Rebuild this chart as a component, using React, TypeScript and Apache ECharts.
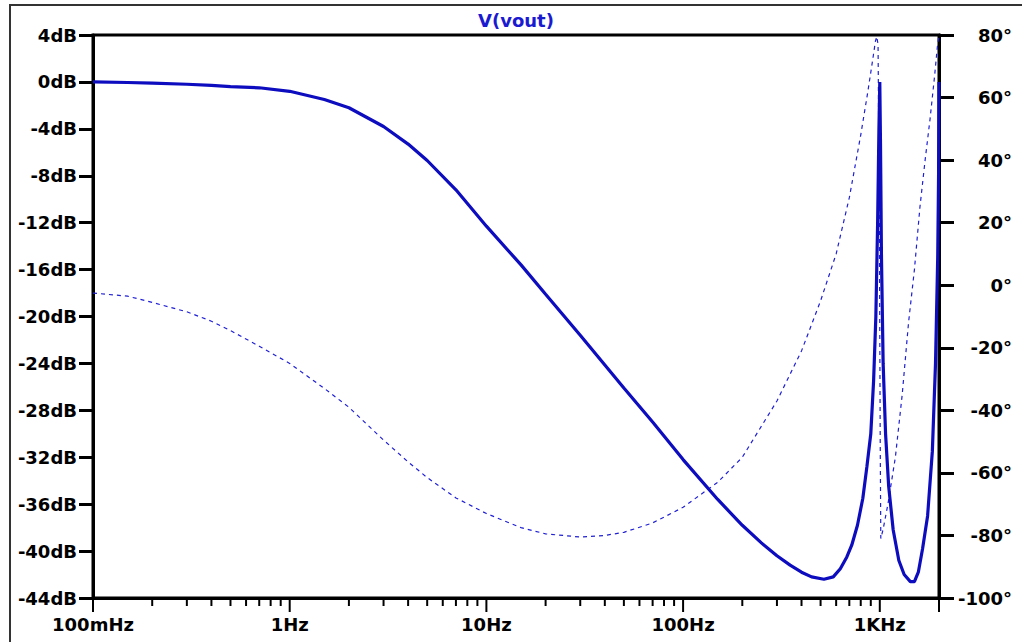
import React, { useEffect, useRef } from 'react';
import * as echarts from 'echarts';

const magFreq = [0.1, 0.15, 0.2, 0.3, 0.4, 0.5, 0.7, 1, 1.5, 2, 3, 4, 5, 7, 10, 15, 20, 30, 50, 70, 100, 150, 200, 250, 300, 350, 400, 450, 520, 580, 630, 680, 720, 770, 820, 860, 900, 930, 955, 975, 990, 1000, 1008, 1020, 1040, 1070, 1110, 1170, 1250, 1330, 1430, 1500, 1570, 1650, 1750, 1850, 1920, 1970, 1990, 2000];
const magDb = [0, -0.05, -0.1, -0.2, -0.3, -0.4, -0.5, -0.8, -1.5, -2.2, -3.8, -5.3, -6.7, -9.2, -12.3, -15.6, -18.1, -21.6, -26.1, -29.0, -32.2, -35.6, -37.8, -39.3, -40.4, -41.2, -41.8, -42.2, -42.4, -42.2, -41.5, -40.5, -39.5, -37.8, -35.5, -32.8, -30, -25.5, -20, -12, -4, 0, -5, -15, -24, -30, -34.5, -38.2, -40.8, -42, -42.6, -42.6, -41.8, -39.8, -37, -31.5, -24, -15, -8, 0];

const phaseFreq = [0.1, 0.15, 0.2, 0.3, 0.4, 0.5, 0.7, 1, 1.5, 2, 3, 4, 5, 7, 10, 15, 20, 30, 40, 50, 70, 100, 150, 200, 300, 400, 500, 600, 700, 800, 870, 920, 950, 965, 980, 995, 1005, 1012, 1040, 1100, 1200, 1300, 1400, 1500, 1600, 1700, 1800, 1900, 1960, 2000];
const phaseDeg = [-2.5, -3.5, -5.5, -8.5, -11.5, -14.5, -19.5, -25, -33, -39, -49.5, -56.5, -61.5, -68, -73, -77.5, -79.5, -80.5, -80, -79, -76, -71, -63, -55, -37, -21, -5, 10, 28, 48, 62, 72, 78, 79.5, 77, 20, -50, -81, -78, -70, -55, -35, -12, 5, 25, 40, 53, 67, 76, 80];

const majorTicks = [0.1, 1, 10, 100, 1000, 2000];
const minorTicks = [0.2, 0.3, 0.4, 0.5, 0.6, 0.7, 0.8, 0.9, 2, 3, 4, 5, 6, 7, 8, 9, 20, 30, 40, 50, 60, 70, 80, 90, 200, 300, 400, 500, 600, 700, 800, 900];
const decadeLabels = ['100mHz', '1Hz', '10Hz', '100Hz', '1KHz'];

const FONT = 'DejaVu Sans';
const MAG_COLOR = '#0d0dbf';
const PHASE_COLOR = '#1f1fd6';

export default function App() {
  const ref = useRef<HTMLDivElement>(null);
  useEffect(() => {
    if (!ref.current) return;
    const chart = echarts.init(ref.current, null, { renderer: 'svg' });
    const labelStyle = { fontFamily: FONT, fontWeight: 'bold' as const, fontSize: 18, color: '#000' };
    const tickSeries = (freqs: number[], len: number) => ({
      type: 'custom',
      xAxisIndex: 0,
      yAxisIndex: 0,
      clip: false,
      silent: true,
      data: freqs.map((f) => [f, -44]),
      renderItem: (params: any, api: any) => {
        const p = api.coord([api.value(0), api.value(1)]);
        return {
          type: 'line',
          shape: { x1: p[0], y1: p[1], x2: p[0], y2: p[1] + len },
          style: { stroke: '#000', lineWidth: 2 },
        };
      },
    });
    chart.setOption({
      animation: false,
      backgroundColor: '#fff',
      graphic: [
        {
          type: 'rect',
          shape: { x: 10, y: 5, width: 1100, height: 700 },
          style: { fill: 'none', stroke: '#333', lineWidth: 2 },
          silent: true,
        },
        {
          type: 'text',
          x: 516,
          y: 20,
          style: {
            text: 'V(vout)',
            font: `bold 18px "${FONT}"`,
            fill: '#1a1ad0',
            textAlign: 'center',
            textVerticalAlign: 'middle',
            verticalAlign: 'middle',
          },
        },
      ],
      grid: {
        left: 93,
        right: 83,
        top: 35,
        bottom: 44,
        show: true,
        borderColor: '#000',
        borderWidth: 3,
        backgroundColor: 'transparent',
      },
      xAxis: {
        type: 'log',
        logBase: 10,
        min: 0.1,
        max: 2000,
        axisLine: { show: true, onZero: false, lineStyle: { color: '#000', width: 3 } },
        axisTick: { show: false },
        splitLine: { show: false },
        axisLabel: {
          ...labelStyle,
          margin: 17,
          formatter: (v: number) => {
            const e = Math.round(Math.log10(v));
            if (Math.abs(Math.log10(v) - e) > 0.01) return '';
            return decadeLabels[e + 1] ?? '';
          },
        },
      },
      yAxis: [
        {
          type: 'value',
          min: -44,
          max: 4,
          interval: 4,
          position: 'left',
          axisLine: { show: true, onZero: false, lineStyle: { color: '#000', width: 3 } },
          axisTick: { show: true, length: 14, lineStyle: { color: '#000', width: 3 } },
          splitLine: { show: false },
          axisLabel: { ...labelStyle, margin: 16, formatter: (v: number) => `${v}dB` },
        },
        {
          type: 'value',
          min: -100,
          max: 80,
          interval: 20,
          position: 'right',
          axisLine: { show: true, onZero: false, lineStyle: { color: '#000', width: 3 } },
          axisTick: { show: true, length: 15, lineStyle: { color: '#000', width: 3 } },
          splitLine: { show: false },
          axisLabel: { ...labelStyle, margin: 73, align: 'right', formatter: (v: number) => `${v}°` },
        },
      ],
      series: [
        {
          type: 'line',
          name: 'phase',
          yAxisIndex: 1,
          data: phaseFreq.map((f, i) => [f, phaseDeg[i]]),
          showSymbol: false,
          lineStyle: { color: PHASE_COLOR, width: 1.2, type: [4, 4] },
          silent: true,
        },
        {
          type: 'line',
          name: 'mag',
          yAxisIndex: 0,
          data: magFreq.map((f, i) => [f, magDb[i]]),
          showSymbol: false,
          lineStyle: { color: MAG_COLOR, width: 3.2, join: 'bevel' },
          silent: true,
        },
        tickSeries(majorTicks, 14),
        tickSeries(minorTicks, 8),
      ],
    });
    return () => chart.dispose();
  }, []);
  return (
    <div
      ref={ref}
      style={{ position: 'fixed', left: 0, top: 0, width: 1022, height: 642, background: '#fff' }}
    />
  );
}
